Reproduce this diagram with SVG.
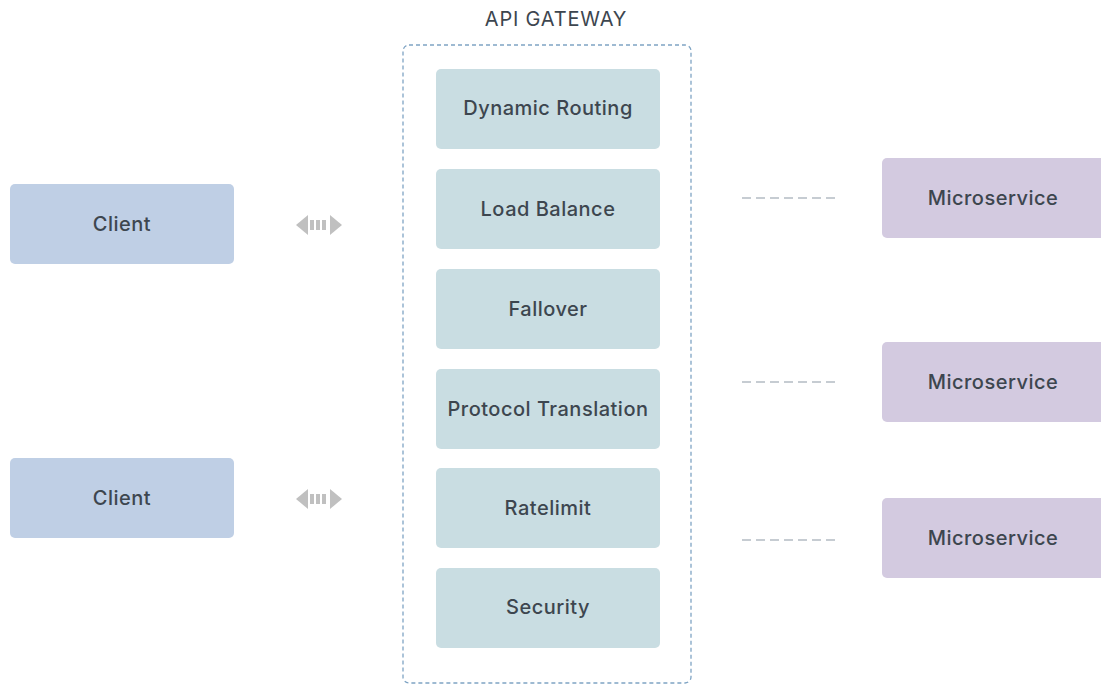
<svg xmlns="http://www.w3.org/2000/svg" width="1101" height="684" viewBox="0 0 1101 684">
<defs>
<style>
.t{font-family:"Inter","Open Sans",sans-serif;font-size:20px;letter-spacing:0.5px;fill:#3d464f;text-anchor:middle;dominant-baseline:central;font-weight:500}
.client{fill:#bfcfe5}
.gw{fill:#c9dde2}
.ms{fill:#d3cae0}
.dash{stroke:#b4bcc4;stroke-width:1.5;stroke-dasharray:9,5;fill:none}
.arr{fill:#c0c0c0}
</style>
<g id="arrow2">
<polygon points="296,225 308,215 308,235"/>
<rect x="310" y="220" width="4" height="10"/>
<rect x="316" y="220" width="4" height="10"/>
<rect x="322" y="220" width="4" height="10"/>
<polygon points="342,225 330,215 330,235"/>
</g>
</defs>
<rect width="1101" height="684" fill="#ffffff"/>
<text class="t" x="556" y="19" style="font-size:20px;font-weight:400;letter-spacing:0.8px">API GATEWAY</text>
<g id="gateway">
<rect x="403" y="45" width="288" height="638" rx="6" fill="none" stroke="#7fa4c4" stroke-width="1.3" stroke-dasharray="4,3"/>
</g>
<g id="client1"><rect class="client" x="10" y="184" width="224" height="80" rx="5"/><text class="t" x="122" y="224">Client</text></g>
<g id="client2"><rect class="client" x="10" y="458" width="224" height="80" rx="5"/><text class="t" x="122" y="498">Client</text></g>
<g id="dynamic-routing"><rect class="gw" x="436" y="69" width="224" height="80" rx="5"/><text class="t" x="548" y="108">Dynamic Routing</text></g>
<g id="load-balance"><rect class="gw" x="436" y="169" width="224" height="80" rx="5"/><text class="t" x="548" y="209">Load Balance</text></g>
<g id="fallover"><rect class="gw" x="436" y="269" width="224" height="80" rx="5"/><text class="t" x="548" y="309">Fallover</text></g>
<g id="protocol-translation"><rect class="gw" x="436" y="369" width="224" height="80" rx="5"/><text class="t" x="548" y="409">Protocol Translation</text></g>
<g id="ratelimit"><rect class="gw" x="436" y="468" width="224" height="80" rx="5"/><text class="t" x="548" y="508">Ratelimit</text></g>
<g id="security"><rect class="gw" x="436" y="568" width="224" height="80" rx="5"/><text class="t" x="548" y="607">Security</text></g>
<g id="ms1"><rect class="ms" x="882" y="158" width="230" height="80" rx="5"/><text class="t" x="993" y="198">Microservice</text></g>
<g id="ms2"><rect class="ms" x="882" y="342" width="230" height="80" rx="5"/><text class="t" x="993" y="382">Microservice</text></g>
<g id="ms3"><rect class="ms" x="882" y="498" width="230" height="80" rx="5"/><text class="t" x="993" y="538">Microservice</text></g>
<g id="connectors">
<use href="#arrow2" class="arr"/>
<use href="#arrow2" class="arr" y="274"/>
<line class="dash" x1="742" y1="198" x2="837" y2="198"/>
<line class="dash" x1="742" y1="382" x2="837" y2="382"/>
<line class="dash" x1="742" y1="540" x2="837" y2="540"/>
</g>
</svg>
